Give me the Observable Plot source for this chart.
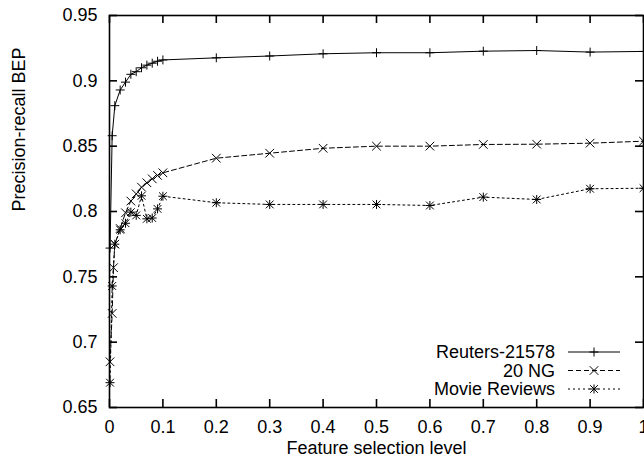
<!DOCTYPE html>
<html>
<head>
<meta charset="utf-8">
<script src="https://cdn.jsdelivr.net/npm/d3@7"></script>
<script src="https://cdn.jsdelivr.net/npm/@observablehq/plot@0.6"></script>
<style>
  body { margin: 0; background: #fff; }
  #chart { width: 644px; height: 469px; position: relative; overflow: hidden; }
</style>
</head>
<body>
<div id="chart"></div>
<script>
// ---------------- data ----------------
const seriesNames = ["Reuters-21578", "20 NG", "Movie Reviews"];

const reutersX = [0.001, 0.005, 0.01, 0.02, 0.03, 0.04, 0.05, 0.06, 0.07, 0.08, 0.09, 0.1, 0.2, 0.3, 0.4, 0.5, 0.6, 0.7, 0.8, 0.9, 1.0];
const reutersY = [0.772, 0.858, 0.881, 0.893, 0.899, 0.905, 0.907, 0.910, 0.912, 0.9135, 0.915, 0.916, 0.9176, 0.919, 0.9207, 0.9215, 0.9215, 0.9227, 0.9232, 0.922, 0.9225];

const ngX = [0.001, 0.005, 0.0075, 0.01, 0.02, 0.03, 0.04, 0.05, 0.06, 0.07, 0.08, 0.09, 0.1, 0.2, 0.3, 0.4, 0.5, 0.6, 0.7, 0.8, 0.9, 1.0];
const ngY = [0.685, 0.722, 0.757, 0.775, 0.787, 0.799, 0.808, 0.8135, 0.8186, 0.822, 0.825, 0.8276, 0.8296, 0.8408, 0.8446, 0.8484, 0.850, 0.850, 0.8513, 0.8515, 0.8523, 0.8538];

const movieX = [0.001, 0.005, 0.01, 0.02, 0.03, 0.04, 0.05, 0.06, 0.07, 0.08, 0.09, 0.1, 0.2, 0.3, 0.4, 0.5, 0.6, 0.7, 0.8, 0.9, 1.0];
const movieY = [0.669, 0.743, 0.775, 0.786, 0.791, 0.7995, 0.797, 0.812, 0.7944, 0.795, 0.802, 0.8117, 0.8067, 0.8054, 0.8054, 0.8054, 0.8046, 0.811, 0.8092, 0.8174, 0.8178];

const xTicks = [0, 0.1, 0.2, 0.3, 0.4, 0.5, 0.6, 0.7, 0.8, 0.9, 1];
const xTickLabels = ["0", "0.1", "0.2", "0.3", "0.4", "0.5", "0.6", "0.7", "0.8", "0.9", "1"];
const yTicks = [0.65, 0.7, 0.75, 0.8, 0.85, 0.9, 0.95];
const yTickLabels = ["0.65", "0.7", "0.75", "0.8", "0.85", "0.9", "0.95"];

const xTitle = "Feature selection level";
const yTitle = "Precision-recall BEP";

// ---------------- layout ----------------
const W = 644, H = 469;
const mL = 109, mR = 1, mT = 15, mB = 62;
const plotW = W - mL - mR, plotH = H - mT - mB;
const tickLen = 8;
const ink = "#000";
const font = "'Liberation Sans', Arial, Helvetica, sans-serif";

const rows = (xs, ys, name) => xs.map((x, i) => ({x, y: ys[i], series: name}));
const reuters = rows(reutersX, reutersY, seriesNames[0]);
const ng = rows(ngX, ngY, seriesNames[1]);
const movie = rows(movieX, movieY, seriesNames[2]);

const dashes = [null, "5,3", "2,3"];
const rPlus = 3.0, rTimes = 4.0, rStarPlus = 3.0, rStarTimes = 3.6;

const svg = Plot.plot({
  width: W, height: H,
  marginLeft: mL, marginRight: mR, marginTop: mT, marginBottom: mB,
  style: {fontFamily: font, fontSize: "18px", color: ink, background: "#fff", overflow: "visible"},
  x: {domain: [0, 1], axis: null},
  y: {domain: [0.65, 0.95], axis: null},
  marks: [
    Plot.line(reuters, {x: "x", y: "y", stroke: ink, strokeWidth: 1}),
    Plot.line(ng, {x: "x", y: "y", stroke: ink, strokeWidth: 1, strokeDasharray: dashes[1]}),
    Plot.line(movie, {x: "x", y: "y", stroke: ink, strokeWidth: 1, strokeDasharray: dashes[2]}),
    Plot.dot(reuters, {x: "x", y: "y", symbol: "plus", r: rPlus, stroke: ink, fill: "none", strokeWidth: 1}),
    Plot.dot(ng, {x: "x", y: "y", symbol: "times", r: rTimes, stroke: ink, fill: "none", strokeWidth: 1}),
    Plot.dot(movie, {x: "x", y: "y", symbol: "plus", r: rStarPlus, stroke: ink, fill: "none", strokeWidth: 1}),
    Plot.dot(movie, {x: "x", y: "y", symbol: "times", r: rStarTimes, stroke: ink, fill: "none", strokeWidth: 1}),
    // inward ticks on all four sides
    Plot.tickX(xTicks, {x: d => d, insetTop: plotH - tickLen, stroke: ink, strokeWidth: 1.6}),
    Plot.tickX(xTicks, {x: d => d, insetBottom: plotH - tickLen, stroke: ink, strokeWidth: 1.6}),
    Plot.tickY(yTicks, {y: d => d, insetRight: plotW - tickLen, stroke: ink, strokeWidth: 1.6}),
    Plot.tickY(yTicks, {y: d => d, insetLeft: plotW - tickLen, stroke: ink, strokeWidth: 1.6}),
    Plot.axisX({ticks: xTicks, tickFormat: d => xTickLabels[xTicks.indexOf(d)], tickSize: 0, tickPadding: 13, label: null, fontSize: 18}),
    Plot.axisY({ticks: yTicks, tickFormat: d => yTickLabels[yTicks.indexOf(d)], tickSize: 0, tickPadding: 12, label: null, fontSize: 18}),
    Plot.frame({stroke: ink, strokeWidth: 1.6}),
    Plot.text([xTitle], {text: d => d, frameAnchor: "bottom", dy: 46, fontSize: 18, fill: ink}),
    Plot.text([yTitle], {text: d => d, frameAnchor: "left", dx: -90, rotate: -90, fontSize: 18, fill: ink})
  ]
});

// ---------------- legend (inside, lower right) ----------------
const lg = d3.select(svg).append("g").attr("font-family", font).attr("font-size", 18);
const legTextX = 555, legLine0 = 568, legLine1 = 620, legMark = 594;
const legY = [352, 370.5, 389];
const sym = (type, r) => d3.symbol().type(type).size(Math.PI * r * r)();
seriesNames.forEach((name, i) => {
  const y = legY[i];
  lg.append("text").attr("x", legTextX).attr("y", y).attr("dy", "0.35em")
    .attr("text-anchor", "end").attr("fill", ink).text(name);
  const ln = lg.append("line").attr("x1", legLine0).attr("x2", legLine1)
    .attr("y1", y).attr("y2", y).attr("stroke", ink).attr("stroke-width", 1);
  if (dashes[i]) ln.attr("stroke-dasharray", dashes[i]);
  const marks = i === 0 ? [[d3.symbolPlus, rPlus]]
              : i === 1 ? [[d3.symbolTimes, rTimes]]
              : [[d3.symbolPlus, rStarPlus], [d3.symbolTimes, rStarTimes]];
  marks.forEach(([t, r]) => lg.append("path").attr("d", sym(t, r))
    .attr("transform", `translate(${legMark},${y})`)
    .attr("fill", "none").attr("stroke", ink).attr("stroke-width", 1));
});

document.getElementById("chart").appendChild(svg);
</script>
</body>
</html>
